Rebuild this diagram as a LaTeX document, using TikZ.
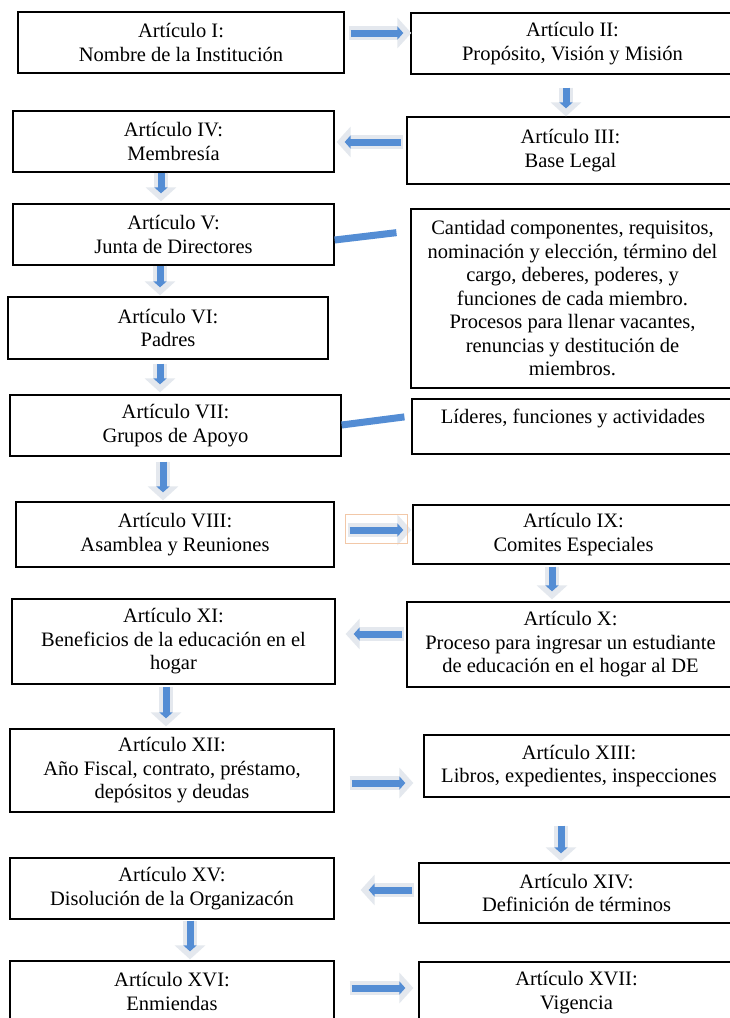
\documentclass[tikz,border=0pt]{standalone}
\usepackage{fontspec}
\setmainfont{Liberation Serif}
\usetikzlibrary{arrows.meta}
\definecolor{azul}{RGB}{84,141,212}
\definecolor{sombra}{RGB}{228,232,238}
\definecolor{naranja}{RGB}{242,200,168}
\tikzset{
	caja/.style={draw, line width=1.3pt, align=center, inner sep=0pt, font=\fontsize{20.5}{23.5}\selectfont},
	brillo/.style={draw, sombra, line width=14pt, -{Triangle[width=30pt,length=14pt]}},
	flecha/.style={draw, azul, line width=7pt, -{Triangle[width=13pt,length=6pt]}},
	enlace/.style={draw, azul, line width=7pt},
}
\begin{document}
\begin{tikzpicture}[x=1pt, y=-1pt]
		\useasboundingbox (0,0) rectangle (730,1018);
		\clip (0,0) rectangle (730,1018);
		\fill[white] (0,0) rectangle (730,1018);

		\node[caja, minimum width=326pt, minimum height=61pt] (art1) at (181,42.5) {Artículo I:\\Nombre de la Institución};
		\node[caja, minimum width=323pt, minimum height=61pt] (art2) at (572.5,43.5) {Artículo II:\\Propósito, Visión y Misión};
		\node[caja, minimum width=327pt, minimum height=67pt] (art3) at (570.5,150.5) {Artículo III:\\Base Legal};
		\node[caja, minimum width=321pt, minimum height=61pt] (art4) at (173.5,141.5) {Artículo IV:\\Membresía};
		\node[caja, minimum width=321pt, minimum height=61pt] (art5) at (173.5,234.5) {Artículo V:\\Junta de Directores};
		\node[caja, minimum width=323pt, minimum height=179pt] (cantidad) at (572.5,298.5) {Cantidad componentes, requisitos,\\nominación y elección, término del\\cargo, deberes, poderes, y\\funciones de cada miembro.\\Procesos para llenar vacantes,\\renuncias y destitución de\\miembros.};
		\node[caja, minimum width=320pt, minimum height=62pt] (art6) at (168,328) {Artículo VI:\\Padres};
		\node[caja, minimum width=331pt, minimum height=61pt] (art7) at (175.5,425.5) {Artículo VII:\\Grupos de Apoyo};
		\node[caja, minimum width=322pt, minimum height=55pt, text height=14pt, text depth=21pt] (lideres) at (573,426.5) {Líderes, funciones y actividades};
		\node[caja, minimum width=318pt, minimum height=65pt] (art8) at (175,534.5) {Artículo VIII:\\Asamblea y Reuniones};
		\node[caja, minimum width=321pt, minimum height=59pt] (art9) at (573.5,534.5) {Artículo IX:\\Comites Especiales};
		\node[caja, minimum width=327pt, minimum height=85pt] (art10) at (570.5,644.5) {Artículo X:\\Proceso para ingresar un estudiante\\de educación en el hogar al DE};
		\node[caja, minimum width=323pt, minimum height=85pt] (art11) at (173.5,641.5) {Artículo XI:\\Beneficios de la educación en el\\hogar};
		\node[caja, minimum width=324pt, minimum height=83pt] (art12) at (172,770.5) {Artículo XII:\\Año Fiscal, contrato, préstamo,\\depósitos y deudas};
		\node[caja, minimum width=310pt, minimum height=62pt] (art13) at (579,766) {Artículo XIII:\\Libros, expedientes, inspecciones};
		\node[caja, minimum width=315pt, minimum height=60pt] (art14) at (576.5,893) {Artículo XIV:\\Definición de términos};
		\node[caja, minimum width=324pt, minimum height=61pt] (art15) at (172,888.5) {Artículo XV:\\Disolución de la Organizacón};
		\node[caja, minimum width=324pt, minimum height=61pt] (art16) at (172,991.5) {Artículo XVI:\\Enmiendas};
		\node[caja, minimum width=315pt, minimum height=61pt] (art17) at (576.5,992.5) {Artículo XVII:\\Vigencia};

		% flechas
		\draw[brillo, shorten <=4pt, shorten >=-1pt] (art1.east |- 0,33) -- (art2.west |- 0,33);
		\draw[flecha, shorten <=6pt, shorten >=7pt] (art1.east |- 0,33) -- (art2.west |- 0,33);
		\draw[brillo, shorten <=13pt, shorten >=0pt] (art2.south -| 566,0) -- (art3.north -| 566,0);
		\draw[flecha, shorten <=13pt, shorten >=8pt] (art2.south -| 566,0) -- (art3.north -| 566,0);
		\draw[brillo, shorten <=3pt, shorten >=2pt] (art3.west |- 0,142) -- (art4.east |- 0,142);
		\draw[flecha, shorten <=5pt, shorten >=10pt] (art3.west |- 0,142) -- (art4.east |- 0,142);
		\draw[brillo, shorten <=0pt, shorten >=2pt] (art4.south -| 161,0) -- (art5.north -| 161,0);
		\draw[flecha, shorten <=0pt, shorten >=10pt] (art4.south -| 161,0) -- (art5.north -| 161,0);
		\draw[brillo, shorten <=0pt, shorten >=1pt] (art5.south -| 160,0) -- (art6.north -| 160,0);
		\draw[flecha, shorten <=0pt, shorten >=9pt] (art5.south -| 160,0) -- (art6.north -| 160,0);
		\draw[brillo, shorten <=4pt, shorten >=2pt] (art6.south -| 160,0) -- (art7.north -| 160,0);
		\draw[flecha, shorten <=4pt, shorten >=10pt] (art6.south -| 160,0) -- (art7.north -| 160,0);
		\draw[brillo, shorten <=5pt, shorten >=1pt] (art7.south -| 163,0) -- (art8.north -| 163,0);
		\draw[flecha, shorten <=5pt, shorten >=9pt] (art7.south -| 163,0) -- (art8.north -| 163,0);
		\draw[brillo, shorten <=13pt, shorten >=1pt] (art8.east |- 0,530) -- (art9.west |- 0,530);
		\draw[flecha, shorten <=15pt, shorten >=9pt] (art8.east |- 0,530) -- (art9.west |- 0,530);
		\draw[brillo, shorten <=2pt, shorten >=2pt] (art9.south -| 552,0) -- (art10.north -| 552,0);
		\draw[flecha, shorten <=2pt, shorten >=10pt] (art9.south -| 552,0) -- (art10.north -| 552,0);
		\draw[brillo, shorten <=2pt, shorten >=10pt] (art10.west |- 0,634) -- (art11.east |- 0,634);
		\draw[flecha, shorten <=4pt, shorten >=18pt] (art10.west |- 0,634) -- (art11.east |- 0,634);
		\draw[brillo, shorten <=2pt, shorten >=2pt] (art11.south -| 166,0) -- (art12.north -| 166,0);
		\draw[flecha, shorten <=2pt, shorten >=10pt] (art11.south -| 166,0) -- (art12.north -| 166,0);
		\draw[brillo, shorten <=15pt, shorten >=10pt] (art12.east |- 0,783) -- (art13.west |- 0,783);
		\draw[flecha, shorten <=17pt, shorten >=18pt] (art12.east |- 0,783) -- (art13.west |- 0,783);
		\draw[brillo, shorten <=28pt, shorten >=1pt] (art13.south -| 561,0) -- (art14.north -| 561,0);
		\draw[flecha, shorten <=28pt, shorten >=9pt] (art13.south -| 561,0) -- (art14.north -| 561,0);
		\draw[brillo, shorten <=4pt, shorten >=26pt] (art14.west |- 0,890) -- (art15.east |- 0,890);
		\draw[flecha, shorten <=6pt, shorten >=34pt] (art14.west |- 0,890) -- (art15.east |- 0,890);
		\draw[brillo, shorten <=1pt, shorten >=1pt] (art15.south -| 190,0) -- (art16.north -| 190,0);
		\draw[flecha, shorten <=1pt, shorten >=9pt] (art15.south -| 190,0) -- (art16.north -| 190,0);
		\draw[brillo, shorten <=15pt, shorten >=5pt] (art16.east |- 0,988) -- (art17.west |- 0,988);
		\draw[flecha, shorten <=17pt, shorten >=13pt] (art16.east |- 0,988) -- (art17.west |- 0,988);

		% enlaces
		\draw[enlace, shorten >=14pt] (art5.east |- 0,240) -- (cantidad.west |- 0,231);
		\draw[enlace, shorten >=7pt] (art7.east |- 0,425) -- (lideres.west |- 0,416);

		\draw[naranja, line width=1pt] (345,514) rectangle (407,543);
	\end{tikzpicture}
\end{document}
